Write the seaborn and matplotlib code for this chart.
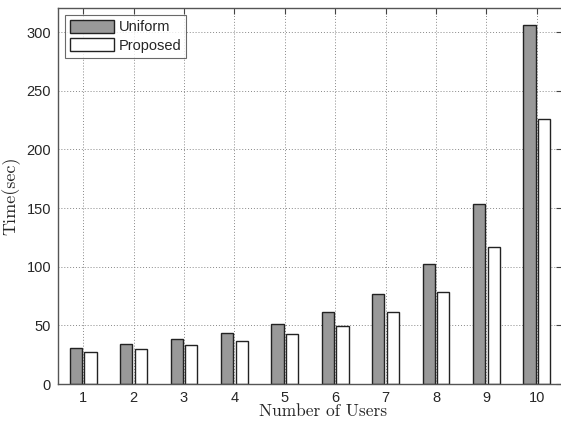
import matplotlib
matplotlib.use("Agg")
import matplotlib.pyplot as plt
import seaborn as sns
import pandas as pd

users = ["1", "2", "3", "4", "5", "6", "7", "8", "9", "10"]
uniform = [30.9, 34.3, 38.1, 43.7, 51.1, 61.3, 76.4, 102.0, 153.3, 305.8]
proposed = [27.3, 30.1, 33.0, 36.6, 42.3, 49.1, 61.1, 78.6, 116.4, 226.3]
series = ["Uniform", "Proposed"]
yticks = [0, 50, 100, 150, 200, 250, 300]

df = pd.DataFrame({
    "users": users * 2,
    "time": uniform + proposed,
    "method": [series[0]] * len(users) + [series[1]] * len(users),
})

sns.set_style("white")
plt.rcParams["font.family"] = ["Liberation Sans", "DejaVu Sans"]

fig = plt.figure(figsize=(5.61, 4.21), dpi=100)
ax = fig.add_axes([58 / 561, 37 / 421, (562 - 58) / 561, (384 - 7.5) / 421])

sns.barplot(data=df, x="users", y="time", hue="method", order=users,
            hue_order=series, palette={"Uniform": "#999999", "Proposed": "#ffffff"},
            width=0.58, gap=0.17, edgecolor="#222222", linewidth=1.0,
            saturation=1, ax=ax, legend=True)

ax.set_xlim(-0.5, 9.5)
ax.set_ylim(0, 321)
ax.set_yticks(yticks)
ax.set_yticklabels([str(v) for v in yticks])
ax.set_axisbelow(True)
ax.grid(True, linestyle=(0, (1, 2)), color="#888888", linewidth=0.7)
ax.tick_params(direction="in", top=True, right=True, length=4, labelsize=10.5,
               color="#444444", pad=5)
for s in ax.spines.values():
    s.set_color("#555555")
    s.set_linewidth(1.0)

ax.set_xlabel("Number of Users", fontfamily="cmr10", fontsize=12.5)
ax.xaxis.set_label_coords(0.526, -0.053, transform=ax.transAxes)
ax.xaxis.label.set_va("top")
ax.set_ylabel("Time(sec)", fontfamily="cmr10", fontsize=13, labelpad=4)

leg = ax.legend(loc="upper left", fontsize=10.5, frameon=True, fancybox=False,
                edgecolor="#444444", handlelength=3.0, handleheight=1.0,
                borderaxespad=0.5, labelspacing=0.25, handletextpad=0.3,
                borderpad=0.35)
leg.get_frame().set_linewidth(0.8)

fig.savefig("out.png", dpi=100)
